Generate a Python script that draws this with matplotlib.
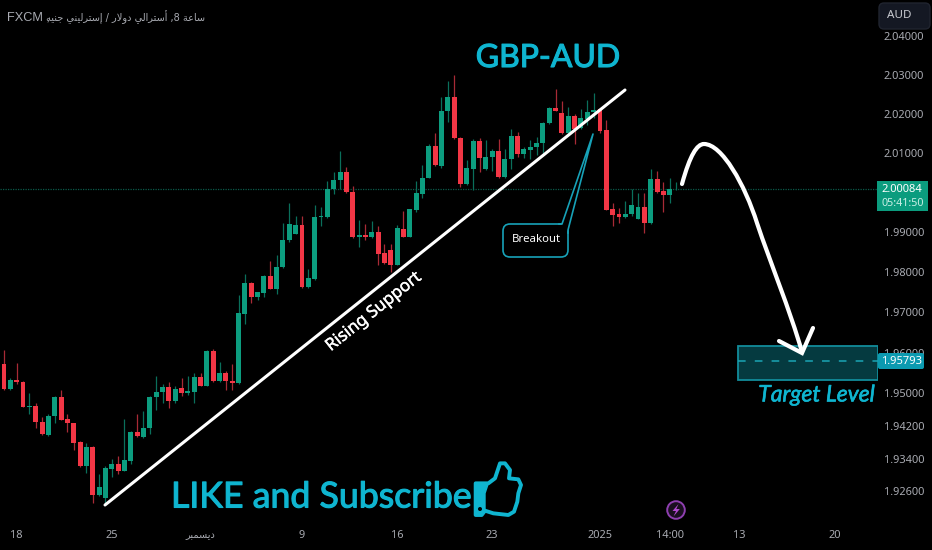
import numpy as np
import matplotlib
matplotlib.use("Agg")
import matplotlib.pyplot as plt
import matplotlib.patheffects as pe
from matplotlib.patches import Polygon, FancyBboxPatch, Circle, Rectangle, PathPatch
from matplotlib.path import Path

opens = [1.9600,
 1.9573,1.9511,1.9532,1.9529,1.9467,1.9470,1.9430,1.9398,1.9444,1.9491,1.9436,1.9426,1.9380,1.9322,1.9369,1.9251,1.9244,1.9314,1.9328,1.9311,
 1.9335,1.9406,1.9394,1.9414,1.9490,1.9503,1.9516,1.9480,1.9513,1.9502,1.9503,1.9539,1.9519,1.9605,1.9530,1.9549,1.9531,1.9526,
 1.9696,1.9773,1.9738,1.9749,1.9790,1.9759,1.9812,1.9880,1.9897,1.9919,1.9764,1.9783,1.9939,1.9939,2.0008,2.0033,2.0051,2.0002,
 1.9889,1.9893,1.9888,1.9900,1.9848,1.9856,1.9819,1.9909,1.9889,1.9956,1.9997,2.0038,2.0119,2.0067,2.0207,2.0242,2.0138,2.0022,
 2.0060,2.0131,2.0060,2.0090,2.0105,2.0040,2.0086,2.0144,2.0098,2.0109,2.0116,2.0125,2.0176,2.0214,2.0201,2.0150,2.0194,2.0163,
 2.0186,2.0204,2.0211,2.0159,1.9958,1.9945,1.9938,1.9945,1.9934,1.9964,1.9923,2.0035,2.0003,1.9995,2.0008]
closes = [1.9535,
 1.9511,1.9532,1.9528,1.9467,1.9470,1.9429,1.9399,1.9445,1.9491,1.9435,1.9426,1.9378,1.9322,1.9369,1.9251,1.9270,1.9316,1.9328,1.9311,1.9336,
 1.9406,1.9395,1.9415,1.9491,1.9504,1.9516,1.9480,1.9511,1.9500,1.9505,1.9539,1.9519,1.9605,1.9530,1.9549,1.9530,1.9525,1.9698,
 1.9773,1.9738,1.9751,1.9790,1.9759,1.9813,1.9881,1.9921,1.9919,1.9764,1.9785,1.9938,1.9941,2.0008,2.0033,2.0051,2.0001,1.9888,
 1.9893,1.9889,1.9900,1.9846,1.9823,1.9819,1.9910,1.9889,1.9958,1.9998,2.0038,2.0119,2.0069,2.0207,2.0242,2.0138,2.0022,2.0061,
 2.0131,2.0087,2.0090,2.0105,2.0040,2.0086,2.0144,2.0098,2.0110,2.0116,2.0125,2.0176,2.0215,2.0207,2.0150,2.0194,2.0161,2.0188,
 2.0205,2.0209,2.0157,1.9957,1.9943,1.9938,1.9946,1.9968,1.9964,1.9923,2.0035,2.0001,1.9995,2.0008,2.0010]
highs = [1.9617,
 1.9606,1.9537,1.9575,1.9531,1.9501,1.9477,1.9442,1.9448,1.9493,1.9508,1.9450,1.9428,1.9384,1.9379,1.9371,1.9302,1.9322,1.9340,1.9347,1.9438,
 1.9408,1.9449,1.9457,1.9493,1.9543,1.9524,1.9528,1.9518,1.9538,1.9542,1.9549,1.9551,1.9606,1.9610,1.9578,1.9555,1.9573,1.9744,
 1.9796,1.9777,1.9752,1.9794,1.9828,1.9844,1.9923,1.9974,1.9942,1.9942,1.9807,1.9970,1.9965,2.0029,2.0051,2.0105,2.0064,2.0018,
 1.9932,1.9921,1.9929,1.9917,1.9871,1.9870,1.9918,1.9954,1.9959,2.0029,2.0070,2.0123,2.0152,2.0242,2.0284,2.0299,2.0140,2.0083,
 2.0135,2.0138,2.0134,2.0110,2.0135,2.0110,2.0161,2.0154,2.0115,2.0134,2.0141,2.0180,2.0218,2.0263,2.0232,2.0218,2.0199,2.0211,
 2.0236,2.0252,2.0214,2.0183,1.9974,1.9961,1.9978,2.0008,2.0000,2.0000,2.0059,2.0055,2.0026,2.0038,2.0027]
lows = [1.9530,
 1.9509,1.9509,1.9522,1.9466,1.9449,1.9415,1.9398,1.9396,1.9426,1.9434,1.9405,1.9361,1.9320,1.9304,1.9233,1.9249,1.9233,1.9296,1.9302,1.9310,
 1.9326,1.9394,1.9391,1.9401,1.9459,1.9475,1.9464,1.9477,1.9493,1.9497,1.9475,1.9518,1.9518,1.9528,1.9528,1.9508,1.9509,1.9524,
 1.9671,1.9723,1.9731,1.9739,1.9758,1.9746,1.9811,1.9875,1.9896,1.9762,1.9762,1.9781,1.9917,1.9937,1.9997,2.0008,2.0000,1.9886,
 1.9864,1.9880,1.9886,1.9819,1.9821,1.9800,1.9817,1.9888,1.9888,1.9950,1.9986,2.0037,2.0068,2.0061,2.0180,2.0136,2.0013,2.0020,
 2.0007,2.0053,2.0057,2.0055,2.0038,2.0038,2.0059,2.0091,2.0087,2.0084,2.0096,2.0100,2.0174,2.0206,2.0149,2.0147,2.0123,2.0161,
 2.0172,2.0188,2.0152,1.9955,1.9917,1.9923,1.9936,1.9942,1.9933,1.9898,1.9921,1.9999,1.9950,1.9974,2.0007]
first_index = -1

price_ticks = [2.04, 2.03, 2.02, 2.01, 1.99, 1.98, 1.97, 1.96, 1.95, 1.942, 1.934, 1.926]
price_labels = ["2.04000", "2.03000", "2.02000", "2.01000", "1.99000", "1.98000",
                "1.97000", "1.96000", "1.95000", "1.94200", "1.93400", "1.92600"]
date_ticks = [2, 17, 31, 47, 62, 77, 94, 105, 116, 131]
# Arabic in shaped presentation forms, visual order
date_labels = ["18", "25", "\uFEAE\uFE92\uFEE4\uFEB4\uFBFE\uFEA9", "9", "16", "23", "2025", "14:00", "13", "20"]
last_price = 2.00084
target_price = 1.95793
target_low, target_high = 1.9533, 1.9617
title_latin = "FXCM ,"
title_arabic = ("\uFEEA\uFEF4\uFEE8\uFE9F \uFEF2\uFEE8\uFEF4\uFEDF\uFEAE\uFE98\uFEB3\uFE87 / "
                "\uFEAD\uFEFB\uFEED\uFEA9 \uFEF2\uFEDF\uFE8D\uFEAE\uFE98\uFEB3\uFE83 ,8 "
                "\uFE94\uFECB\uFE8E\uFEB3")

GREEN, RED = "#0c9d7f", "#f23645"
WICK_G, WICK_R = "#0a6f5b", "#a82a36"
GREY = "#a9abb2"
CYAN = "#0fb5d0"
UI = ["Noto Sans", "DejaVu Sans"]

W, H = 932, 550
fig = plt.figure(figsize=(W / 100, H / 100), dpi=100, facecolor="black")
ax = fig.add_axes([0, (H - 522) / H, 878 / W, 522 / H], facecolor="black")

o, c, h, l = map(np.array, (opens, closes, highs, lows))
x = np.arange(len(o)) + first_index
up = c >= o
ax.set_yscale("log")
ax.vlines(x[up], l[up], h[up], color=WICK_G, lw=0.9, zorder=2)
ax.vlines(x[~up], l[~up], h[~up], color=WICK_R, lw=0.9, zorder=2)
ax.bar(x[up], (c - o)[up], bottom=o[up], width=0.78, color=GREEN, zorder=3)
ax.bar(x[~up], (c - o)[~up], bottom=o[~up], width=0.78, color=RED, zorder=3)
ax.set_xlim(-0.631, 137.85)
ax.set_ylim(1.9186, 2.0492)
ax.axhline(last_price, color="#0b5a4a", lw=0.9, ls=(0, (1, 1)), zorder=1)

ax.add_patch(Rectangle((115.8, target_low), 22.05, target_high - target_low, facecolor="#053a40",
                       edgecolor="#128c9b", lw=1.3, zorder=4))
ax.hlines(target_price, 115.8, 137.85, color="#1aa5b5", lw=1.1, ls=(0, (5, 6)), zorder=5)

ax.set_yticks(price_ticks, price_labels)
ax.yaxis.set_minor_locator(matplotlib.ticker.NullLocator())
ax.yaxis.tick_right()
ax.tick_params(axis="y", length=0, pad=4.3, labelcolor=GREY)
ax.set_xticks(date_ticks, date_labels)
ax.tick_params(axis="x", length=0, pad=6, labelcolor=GREY)
for t in ax.get_yticklabels() + ax.get_xticklabels():
    t.set_family(UI)
    t.set_fontsize(7.9)
ax.get_xticklabels()[2].set_family(["DejaVu Sans"])
ax.get_xticklabels()[2].set_fontsize(7)
ax.get_xticklabels()[6].set_fontweight("bold")
for s in ax.spines.values():
    s.set_visible(False)

# Annotation layer in pixel coordinates of the figure
ov = fig.add_axes([0, 0, 1, 1], zorder=10)
ov.set_xlim(0, W); ov.set_ylim(H, 0); ov.axis("off")

ov.text(7, 17, title_latin, color=GREY, fontsize=9.2, va="center", ha="left", family=["Liberation Sans"])
ov.text(46, 17, title_arabic, color=GREY, fontsize=7, va="center", ha="left", family=["DejaVu Sans"])

ov.plot([105, 625], [505, 90], color="white", lw=2.2, solid_capstyle="round")
bold = [pe.withStroke(linewidth=0.3, foreground="white")]
ov.text(374, 312, "Rising Support", color="white", fontsize=12.2, rotation=38.5, ha="center",
        va="center", rotation_mode="anchor", family=["Noto Sans"], path_effects=bold)
thick = [pe.withStroke(linewidth=0.8, foreground=CYAN)]
ov.text(548, 58, "GBP-AUD", color=CYAN, fontsize=23, ha="center", va="center",
        family=["Lato"], path_effects=thick)
ov.text(171, 497, "LIKE and Subscribe", color=CYAN, fontsize=25.7, ha="left", va="center",
        family=["Lato"], path_effects=thick)

# callout
ov.add_patch(FancyBboxPatch((508, 229), 55, 23, boxstyle="round,pad=5,rounding_size=7",
                            facecolor="black", edgecolor="#17a2b8", lw=1.2, zorder=3))
ov.add_patch(Polygon([(562, 224.5), (593, 134), (568, 230), (566, 233), (558, 226)], closed=True,
                     facecolor="black", edgecolor="none", zorder=4))
ov.plot([559, 562, 593, 568, 568], [224, 224, 134, 230, 233], color="#17a2b8", lw=1.2, zorder=5)
ov.text(536, 240, "Breakout", color="white", fontsize=8.2, ha="center", va="center", family=UI, zorder=6)

# curved arrow
arrow_path = Path([(682, 184), (690, 155), (697, 144), (704, 144),
                   (722, 144), (745, 185), (757, 223),
                   (770, 262), (790, 310), (802, 352)],
                  [Path.MOVETO] + [Path.CURVE4] * 9)
ov.add_patch(PathPatch(arrow_path, facecolor="none", edgecolor="white", lw=3, capstyle="round"))
ov.plot([779, 802, 813], [341, 353, 328], color="white", lw=3, solid_capstyle="round", solid_joinstyle="miter")

# thumb
def tz(zs):
    return [(440 + a / 3, 450 + b / 3) for a, b in zs]
ov.add_patch(Polygon(tz([(107, 100), (145, 100), (165, 85), (175, 55), (180, 40), (195, 40), (210, 60),
                         (207, 85), (235, 88), (243, 105), (235, 130), (232, 155), (222, 185), (205, 195),
                         (160, 190), (135, 182), (125, 195), (107, 195)]), closed=True, facecolor="none",
                     edgecolor=CYAN, lw=2.8, joinstyle="round"))
ov.add_patch(Polygon(tz([(107, 100), (145, 100), (135, 130), (135, 182), (125, 195), (107, 195)]), closed=True,
                     facecolor=CYAN, edgecolor=CYAN, lw=1))
ov.add_patch(Circle((440 + 120 / 3, 450 + 177 / 3), 2, facecolor="black", edgecolor="none"))

# bolt badge
ov.add_patch(Circle((676, 510), 8.8, facecolor="#1a0f20", edgecolor="#8e3fb0", lw=1.4))
ov.add_patch(Polygon([(678.5, 504), (672.5, 511), (676, 511), (673.5, 516.5), (679.8, 509), (676.3, 509)],
                     closed=True, facecolor="#b14ad0", edgecolor="none"))

# price scale labels
ov.add_patch(Rectangle((877, 181), 51, 30, facecolor="#0b9c7e", edgecolor="none"))
ov.text(902, 189.5, "2.00084", color="white", fontsize=8, ha="center", va="center", family=UI)
ov.text(903, 203, "05:41:50", color="#c9efe6", fontsize=7.7, ha="center", va="center", family=UI)
ov.add_patch(FancyBboxPatch((878, 353), 46, 16, boxstyle="round,pad=0,rounding_size=2",
                            facecolor="#0c9ab0", edgecolor="none"))
ov.text(902, 361.5, "1.95793", color="white", fontsize=8, ha="center", va="center", family=UI)
ov.text(875, 395, "Target Level", color=CYAN, fontsize=16.5, ha="right", va="center", style="italic",
        family=["Lato"], path_effects=[pe.withStroke(linewidth=0.4, foreground=CYAN)])

ov.add_patch(FancyBboxPatch((882, 6), 45, 20, boxstyle="round,pad=3,rounding_size=5",
                            facecolor="#141823", edgecolor="#20242f", lw=1))
ov.text(887, 16, "AUD", color="#c8cad0", fontsize=8.4, ha="left", va="center", family=UI)

fig.savefig("out.png", dpi=100, facecolor="black")
